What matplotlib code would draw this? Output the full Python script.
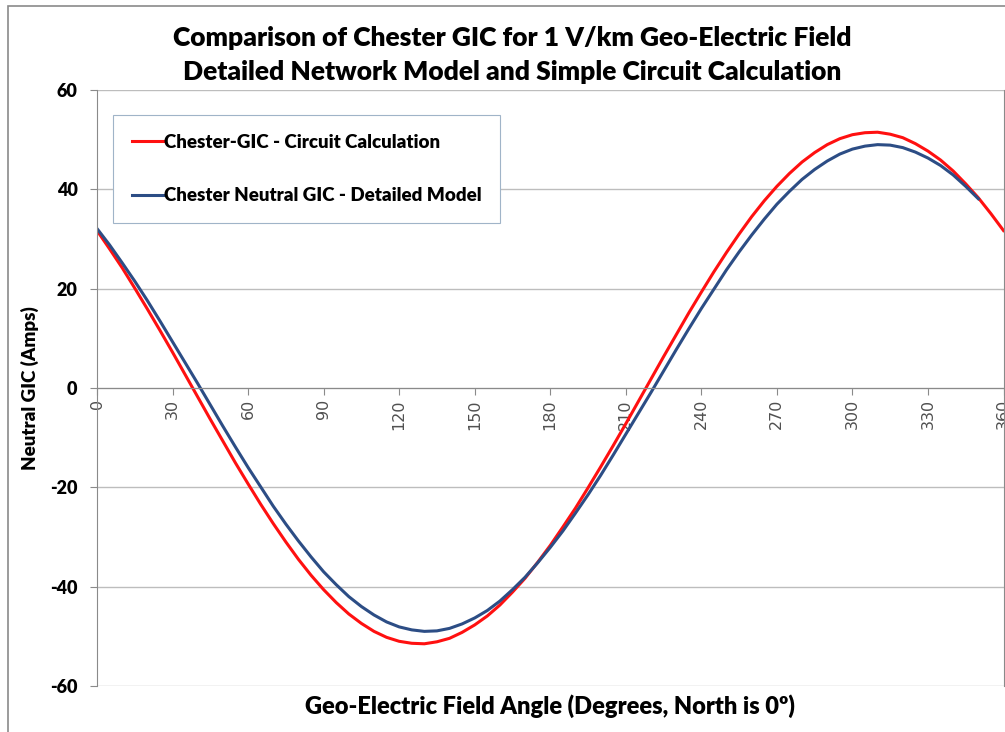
import matplotlib
matplotlib.use("Agg")
import matplotlib.pyplot as plt
from matplotlib.patches import Rectangle

# angles in degrees, read every 5 degrees
ang_red = list(range(0, 361, 5))
circuit_gic = [31.7, 28.0, 24.2, 20.1, 15.9, 11.6, 7.2, 2.7, -1.8, -6.3, -10.7, -15.1, -19.3, -23.4,
               -27.3, -31.0, -34.5, -37.7, -40.6, -43.2, -45.5, -47.4, -49.0, -50.2, -51.0, -51.4,
               -51.5, -51.1, -50.4, -49.2, -47.7, -45.9, -43.7, -41.1, -38.3, -35.1, -31.7,
               -28.0, -24.2, -20.1, -15.9, -11.6, -7.2, -2.7, 1.8, 6.3, 10.7, 15.1, 19.3, 23.4,
               27.3, 31.0, 34.5, 37.7, 40.6, 43.2, 45.5, 47.4, 49.0, 50.2, 51.0, 51.4, 51.5, 51.1,
               50.4, 49.2, 47.7, 45.9, 43.7, 41.1, 38.3, 35.1, 31.7]

ang_blue = list(range(0, 351, 5))
detailed_gic = [32.1, 28.8, 25.2, 21.5, 17.6, 13.5, 9.3, 5.1, 0.9, -3.4, -7.7, -11.9, -16.0, -19.9,
                -23.8, -27.4, -30.8, -34.0, -37.0, -39.6, -42.0, -44.0, -45.7, -47.1, -48.1, -48.7,
                -49.0, -48.9, -48.4, -47.5, -46.3, -44.8, -42.9, -40.6, -38.1, -35.2, -32.1,
                -28.8, -25.2, -21.5, -17.6, -13.5, -9.3, -5.1, -0.9, 3.4, 7.7, 11.9, 16.0, 19.9,
                23.8, 27.4, 30.8, 34.0, 37.0, 39.6, 42.0, 44.0, 45.7, 47.1, 48.1, 48.7, 49.0, 48.9,
                48.4, 47.5, 46.3, 44.8, 42.9, 40.6, 38.1]

xticks = list(range(0, 361, 30))
yticks = [-60, -40, -20, 0, 20, 40, 60]

fam = ["Lato", "DejaVu Sans"]
wt = "heavy"

fig = plt.figure(figsize=(10.05, 7.32), dpi=100)
ax = fig.add_axes([97 / 1005, 1 - 686 / 732, 906.5 / 1005, 596 / 732])

ax.plot(ang_red, circuit_gic, color="#ff1010", lw=2.2, label="Chester-GIC - Circuit Calculation")
ax.plot(ang_blue, detailed_gic, color="#2c4d85", lw=2.2, label="Chester Neutral GIC - Detailed Model")

ax.set_xlim(0, 360)
ax.set_ylim(-60, 60)

ax.grid(axis="y", color="#bdbdbd", lw=1)
ax.spines["top"].set_visible(False)
ax.spines["bottom"].set_position(("data", 0))
for s in ["left", "bottom", "right"]:
    ax.spines[s].set_color("#8a8a8a")
ax.tick_params(axis="x", direction="out", length=5, color="#8a8a8a", pad=3)
ax.tick_params(axis="y", direction="out", length=5, color="#8a8a8a", pad=9)

ax.set_xticks(xticks, labels=[str(t) for t in xticks], family="DejaVu Sans", fontsize=11.5,
              color="#505050", rotation=90)
ax.set_yticks(yticks, labels=[str(t) for t in yticks], family=fam, fontsize=13, fontweight=wt)

ax.set_ylabel("Neutral GIC (Amps)", fontsize=13.5, fontweight=wt, family=fam, labelpad=8)

leg = ax.legend(loc="upper left", bbox_to_anchor=(16 / 906.5, 1 - 25 / 596 - 0.3, 387 / 906.5, 0.3),
                mode="expand", prop={"family": fam, "weight": wt, "size": 13.5},
                handlelength=1.7, handletextpad=0.0, labelspacing=1.95, borderpad=1.0,
                fancybox=False, framealpha=1, borderaxespad=0)
leg.get_frame().set_edgecolor("#a0b4c8")
leg.get_frame().set_linewidth(0.8)

fig.text(512 / 1005, 1 - 38 / 732, "Comparison of Chester GIC for 1 V/km Geo-Electric Field",
         ha="center", va="center", fontsize=19, fontweight=wt, family=fam)
fig.text(512 / 1005, 1 - 72 / 732, "Detailed Network Model and Simple Circuit Calculation",
         ha="center", va="center", fontsize=19, fontweight=wt, family=fam)
fig.text(550 / 1005, 1 - 706 / 732, "Geo-Electric Field Angle (Degrees, North is 0\u00ba)",
         ha="center", va="center", fontsize=17, fontweight=wt, family=fam)

# outer chart border
fig.patches.append(Rectangle((8 / 1005, -0.1), 1.2, 1 - 6 / 732 + 0.1, transform=fig.transFigure,
                             fill=False, edgecolor="#8a8a8a", lw=1.2))

fig.savefig("out.png", dpi=100)
